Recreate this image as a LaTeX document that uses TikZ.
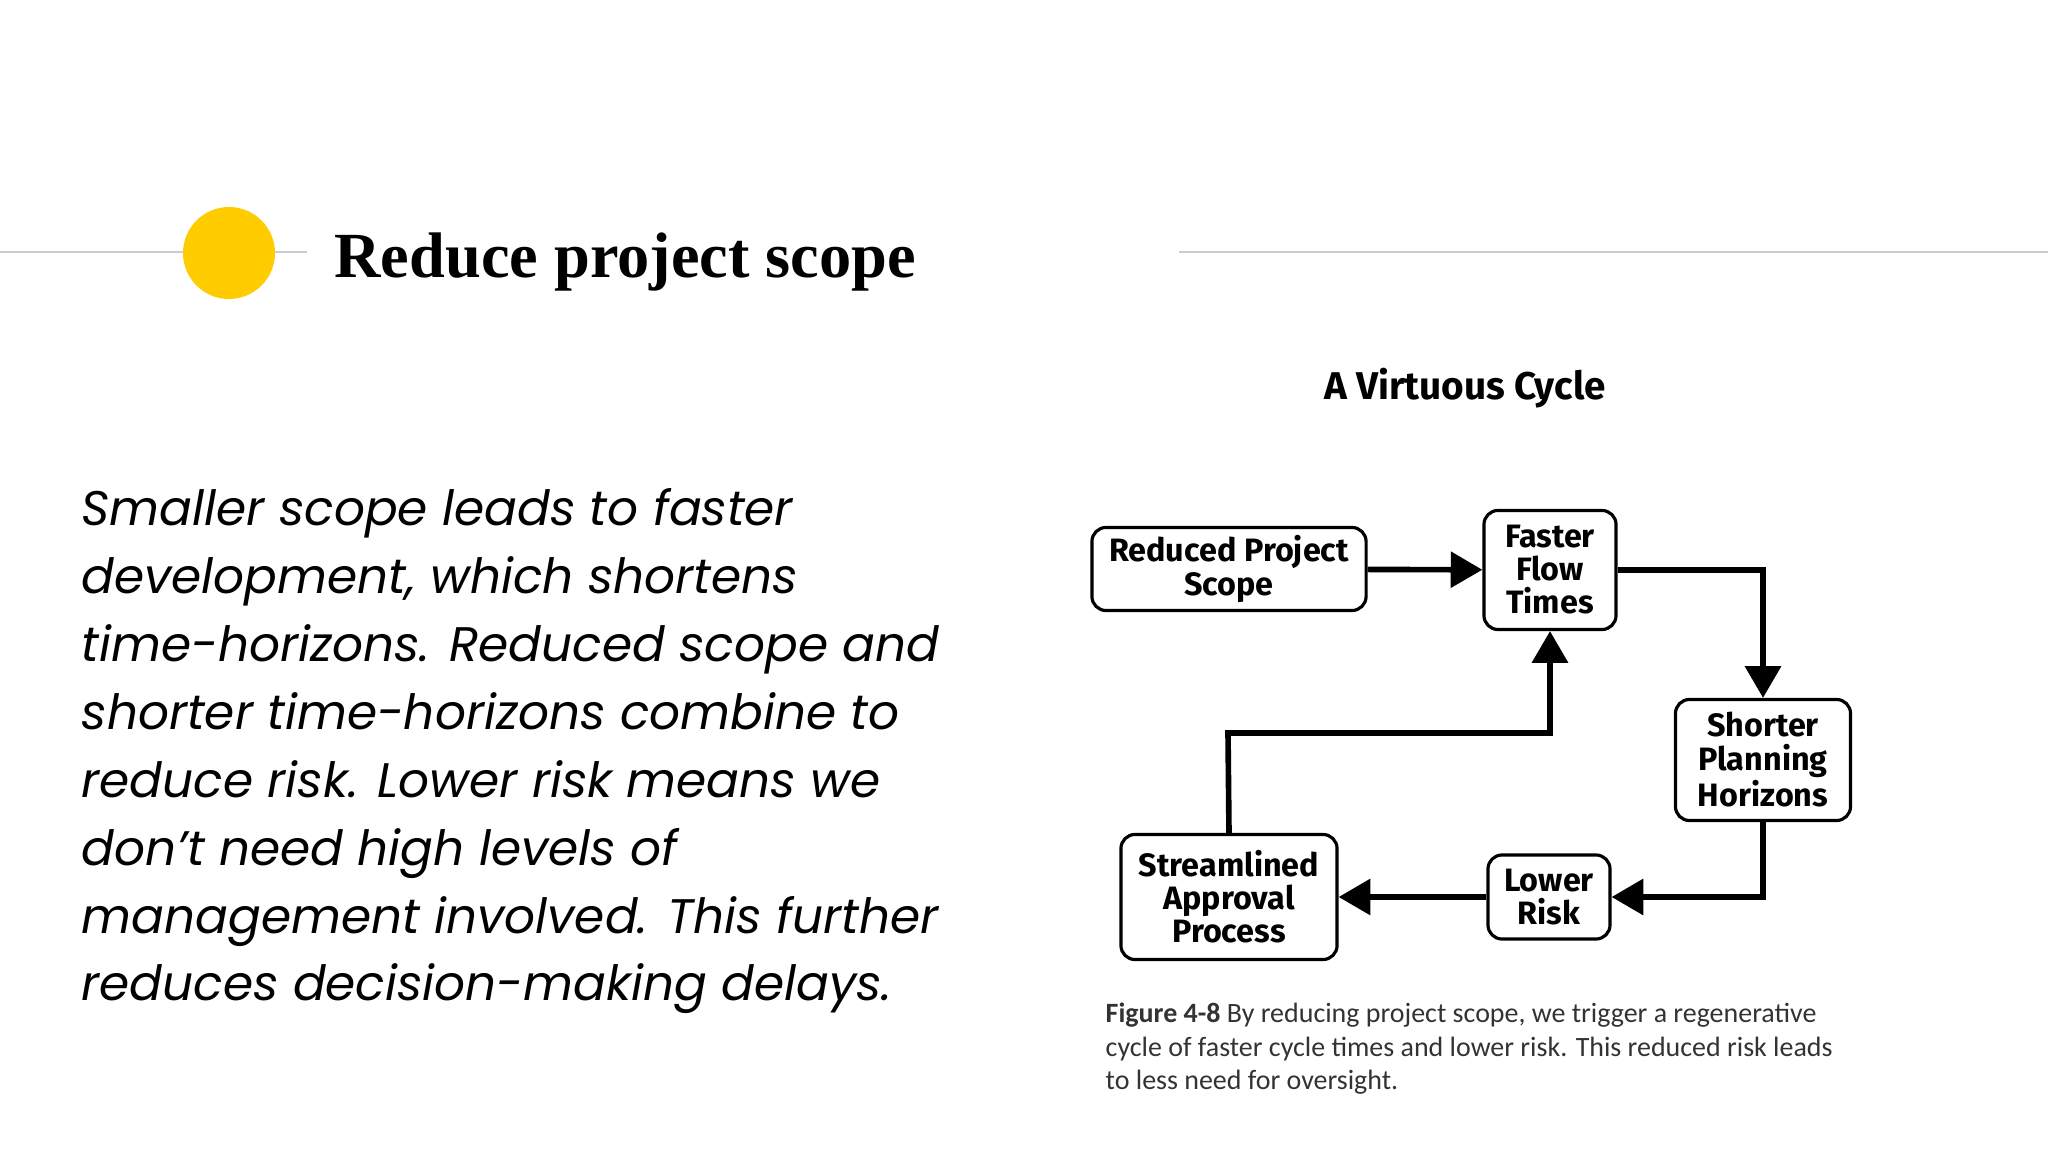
\documentclass[tikz,border=0pt]{standalone}
\usepackage{fontspec}
\setmainfont{Liberation Serif}
\newfontfamily\bodyfont{Poppins}
\newfontfamily\boxfont{Fira Sans}
\newfontfamily\capfont{Carlito}
\usetikzlibrary{arrows.meta}
\definecolor{sun}{HTML}{FFCC00}
\begin{document}
\begin{tikzpicture}[x=0.01cm,y=-0.01cm,
  cbox/.style={draw=black,line width=0.9pt,rounded corners=4pt,align=center,inner sep=0pt,font=\boxfont\bfseries\fontsize{9.2}{9.4}\selectfont},
  flow/.style={line width=1.6pt,-{Triangle[width=10pt,length=9pt]}}]
\useasboundingbox (0,0) rectangle (2048,1152);
\draw[gray!40,line width=0.6pt] (0,252) -- (307,252);
\draw[gray!40,line width=0.6pt] (1179,252) -- (2048,252);
\fill[sun] (229,253) circle (46);
\node[anchor=west,font=\bfseries\fontsize{18.3}{20}\selectfont] (title) at (322,262) {Reduce project scope};
\node[anchor=north west,align=left,inner sep=0pt,font=\bodyfont\itshape\fontsize{13.8}{19.3}\selectfont] (body) at (81,488)
{Smaller scope leads to faster\\development, which shortens\\time-horizons. Reduced scope and\\shorter time-horizons combine to\\reduce risk. Lower risk means we\\don’t need high levels of\\management involved. This further\\reduces decision-making delays.};
\node[font=\boxfont\bfseries\fontsize{11}{13}\selectfont] (head) at (1465,388) {A Virtuous Cycle};
\node[cbox,minimum width=2.74cm,minimum height=0.83cm] (rps) at (1229,569) {Reduced Project\\Scope};
\node[cbox,minimum width=1.32cm,minimum height=1.19cm] (fft) at (1550,570) {Faster\\Flow\\Times};
\node[cbox,minimum width=1.75cm,minimum height=1.21cm] (sph) at (1763,760) {Shorter\\Planning\\Horizons};
\node[cbox,minimum width=1.22cm,minimum height=0.84cm] (lr) at (1549,897) {Lower\\Risk};
\node[cbox,minimum width=2.16cm,minimum height=1.25cm] (sap) at (1229,897) {Streamlined\\Approval\\Process};
\draw[flow] (rps) -- (fft);
\draw[flow] (fft.east) -| (sph.north);
\draw[flow] (sph.south) |- (lr.east);
\draw[flow] (lr) -- (sap);
\coordinate (bend) at (1228,733);
\draw[flow] (sap.north) -- (bend) -| (fft.south);
\node[anchor=north west,align=left,inner sep=0pt,font=\capfont\fontsize{7.95}{9.6}\selectfont,text=black!80] (cap) at (1105,1002)
{\textbf{Figure 4-8} By reducing project scope, we trigger a regenerative\\cycle of faster cycle times and lower risk. This reduced risk leads\\to less need for oversight.};
\end{tikzpicture}
\end{document}
